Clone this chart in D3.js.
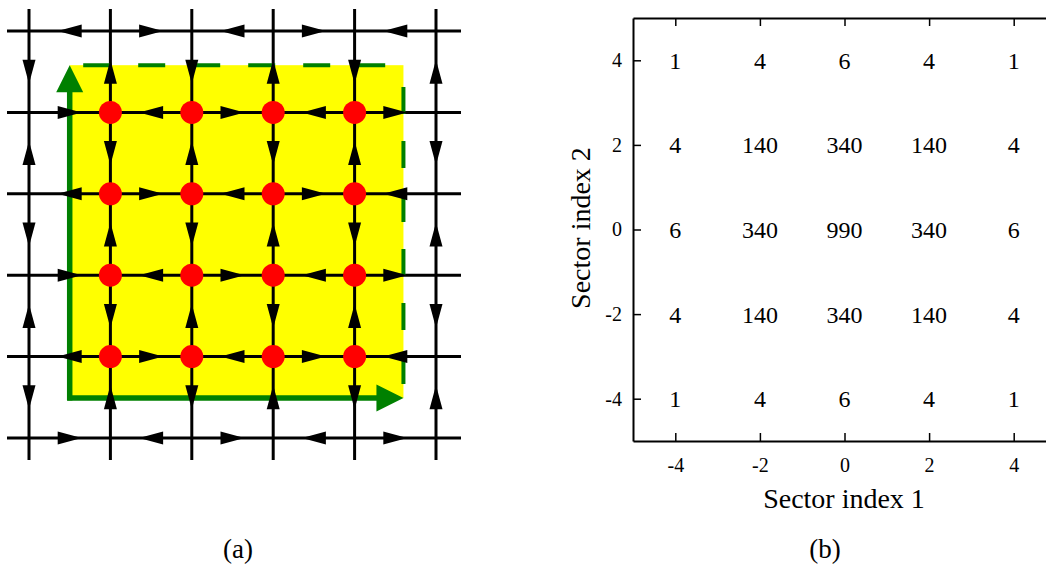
<!DOCTYPE html>
<html>
<head>
<meta charset="utf-8">
<script src="https://cdn.jsdelivr.net/npm/d3@7"></script>
<style>
  body { margin: 0; background: #fff; }
  svg text { font-family: "Liberation Serif", "Times New Roman", serif; }
</style>
</head>
<body>
<div id="chart"></div>
<script>
// ---- panel (a): lattice with flow arrows ----
var latticeIdx = [0, 1, 2, 3, 4, 5];
// arrow direction on each horizontal segment, row by row (top to bottom)
var rowArrows = [
    ['L', 'R', 'L', 'R', 'L'],
    ['R', 'L', 'R', 'L', 'R'],
    ['L', 'R', 'L', 'R', 'L'],
    ['R', 'L', 'R', 'L', 'R'],
    ['L', 'R', 'L', 'R', 'L'],
    ['R', 'L', 'R', 'L', 'R']
];
// arrow direction on each vertical segment, column by column (top to bottom)
var colArrows = [
    ['D', 'U', 'D', 'U', 'D'],
    ['U', 'D', 'U', 'D', 'U'],
    ['D', 'U', 'D', 'U', 'D'],
    ['U', 'D', 'U', 'D', 'U'],
    ['D', 'U', 'D', 'U', 'D'],
    ['U', 'D', 'U', 'D', 'U']
];
var siteCols = [1, 2, 3, 4];
var siteRows = [1, 2, 3, 4];
var regionBox = [0.5, 0.42, 4.6, 4.51];   // x0, y0, x1, y1 in lattice units

// ---- panel (b): counts per sector ----
var sectorX = [-4, -2, 0, 2, 4];
var sectorY = [4, 2, 0, -2, -4];
var counts = [
    [1, 4, 6, 4, 1],
    [4, 140, 340, 140, 4],
    [6, 340, 990, 340, 6],
    [4, 140, 340, 140, 4],
    [1, 4, 6, 4, 1]
];
var tickVals = [-4, -2, 0, 2, 4];

var svg = d3.select('#chart').append('svg')
    .attr('width', 1046)
    .attr('height', 567);

var green = '#008000';

// --- panel (a) ---
var gx = d3.scaleLinear().domain([0, 5]).range([29, 436]),
    gy = d3.scaleLinear().domain([0, 5]).range([31, 438]);

var a = svg.append('g');

a.append('rect')
    .attr('x', gx(regionBox[0]))
    .attr('y', gy(regionBox[1]))
    .attr('width', gx(regionBox[2]) - gx(regionBox[0]))
    .attr('height', gy(regionBox[3]) - gy(regionBox[1]))
    .attr('fill', '#ffff00');

// lattice lines
a.selectAll('.hline').data(latticeIdx).enter().append('line')
    .attr('x1', gx(0) - 22).attr('x2', gx(5) + 25)
    .attr('y1', function(d) { return gy(d); })
    .attr('y2', function(d) { return gy(d); })
    .attr('stroke', '#000').attr('stroke-width', 3);

a.selectAll('.vline').data(latticeIdx).enter().append('line')
    .attr('y1', gy(0) - 22).attr('y2', gy(5) + 22)
    .attr('x1', function(d) { return gx(d); })
    .attr('x2', function(d) { return gx(d); })
    .attr('stroke', '#000').attr('stroke-width', 3);

// green dashed edges of the region
var bx0 = gx(regionBox[0]), by0 = gy(regionBox[1]),
    bx1 = gx(regionBox[2]), by1 = gy(regionBox[3]);

a.append('line')
    .attr('x1', bx0 + 13.5).attr('x2', bx1)
    .attr('y1', by0).attr('y2', by0)
    .attr('stroke', green).attr('stroke-width', 4)
    .attr('stroke-dasharray', '27 28');

a.append('line')
    .attr('x1', bx1).attr('x2', bx1)
    .attr('y1', by1 - 14).attr('y2', by0)
    .attr('stroke', green).attr('stroke-width', 4)
    .attr('stroke-dasharray', '27 27');

// green axes arrows
a.append('line')
    .attr('x1', bx0).attr('x2', bx0)
    .attr('y1', by1 + 2.5).attr('y2', by0 + 20)
    .attr('stroke', green).attr('stroke-width', 5.5);
a.append('path')
    .attr('d', 'M' + bx0 + ',' + by0 + 'L' + (bx0 - 13.5) + ',' + (by0 + 27) + 'L' + (bx0 + 13.5) + ',' + (by0 + 27) + 'Z')
    .attr('fill', green);

a.append('line')
    .attr('x1', bx0 - 2.5).attr('x2', bx1 - 20)
    .attr('y1', by1).attr('y2', by1)
    .attr('stroke', green).attr('stroke-width', 5.5);
a.append('path')
    .attr('d', 'M' + bx1 + ',' + by1 + 'L' + (bx1 - 27) + ',' + (by1 - 13.5) + 'L' + (bx1 - 27) + ',' + (by1 + 13.5) + 'Z')
    .attr('fill', green);

// black flow arrows
function arrowPath(cx, cy, dir) {
    var h = 12, w = 6.5;
    if (dir === 'R') return 'M' + (cx + h) + ',' + cy + 'L' + (cx - h) + ',' + (cy - w) + 'L' + (cx - h) + ',' + (cy + w) + 'Z';
    if (dir === 'L') return 'M' + (cx - h) + ',' + cy + 'L' + (cx + h) + ',' + (cy - w) + 'L' + (cx + h) + ',' + (cy + w) + 'Z';
    if (dir === 'D') return 'M' + cx + ',' + (cy + h) + 'L' + (cx - w) + ',' + (cy - h) + 'L' + (cx + w) + ',' + (cy - h) + 'Z';
    return 'M' + cx + ',' + (cy - h) + 'L' + (cx - w) + ',' + (cy + h) + 'L' + (cx + w) + ',' + (cy + h) + 'Z';
}

var arrows = [];
rowArrows.forEach(function(row, i) {
    row.forEach(function(dir, j) {
        arrows.push({ cx: (gx(j) + gx(j + 1)) / 2, cy: gy(i), dir: dir });
    });
});
colArrows.forEach(function(col, k) {
    col.forEach(function(dir, s) {
        arrows.push({ cx: gx(k), cy: (gy(s) + gy(s + 1)) / 2, dir: dir });
    });
});

a.selectAll('.arrow').data(arrows).enter().append('path')
    .attr('class', 'arrow')
    .attr('d', function(d) { return arrowPath(d.cx, d.cy, d.dir); })
    .attr('fill', '#000');

// red sites
var sites = [];
siteRows.forEach(function(r) {
    siteCols.forEach(function(c) { sites.push({ c: c, r: r }); });
});
a.selectAll('.site').data(sites).enter().append('circle')
    .attr('cx', function(d) { return gx(d.c); })
    .attr('cy', function(d) { return gy(d.r); })
    .attr('r', 11.5)
    .attr('fill', '#ff0000');

a.append('text')
    .attr('x', 238).attr('y', 558)
    .attr('text-anchor', 'middle')
    .attr('font-size', 27)
    .text('(a)');

// --- panel (b) ---
var x = d3.scaleLinear().domain([-5, 5]).range([633, 1056]),
    y = d3.scaleLinear().domain([-5, 5]).range([441, 18]);

var b = svg.append('g');

function styleAxis(g) {
    g.attr('font-family', '"Liberation Serif", serif').attr('font-size', 20);
    g.select('.domain').attr('stroke-width', 2);
    g.selectAll('.tick line').attr('stroke-width', 1.5);
    g.selectAll('.tick text').attr('fill', '#000');
}

b.append('g')
    .attr('transform', 'translate(0,441)')
    .call(d3.axisBottom(x).tickValues(tickVals).tickSize(-8).tickSizeOuter(0)
        .tickPadding(17).tickFormat(function(d) { return String(d); }))
    .call(styleAxis);

b.append('g')
    .attr('transform', 'translate(0,18)')
    .call(d3.axisTop(x).tickValues(tickVals).tickSize(-8).tickSizeOuter(0).tickFormat(''))
    .call(styleAxis);

b.append('g')
    .attr('transform', 'translate(633,0)')
    .call(d3.axisLeft(y).tickValues(tickVals).tickSize(-8).tickSizeOuter(0)
        .tickPadding(11).tickFormat(function(d) { return String(d); }))
    .call(styleAxis);

var cells = [];
sectorY.forEach(function(sy, i) {
    sectorX.forEach(function(sx, j) {
        cells.push({ sx: sx, sy: sy, v: counts[i][j] });
    });
});

b.selectAll('.cell').data(cells).enter().append('text')
    .attr('class', 'cell')
    .attr('x', function(d) { return x(d.sx); })
    .attr('y', function(d) { return y(d.sy); })
    .attr('dy', '0.35em')
    .attr('text-anchor', 'middle')
    .attr('font-size', 24)
    .text(function(d) { return d.v; });

b.append('text')
    .attr('x', 844).attr('y', 508)
    .attr('text-anchor', 'middle')
    .attr('font-size', 28)
    .text('Sector index 1');

b.append('text')
    .attr('transform', 'translate(590,228) rotate(-90)')
    .attr('text-anchor', 'middle')
    .attr('font-size', 28)
    .text('Sector index 2');

b.append('text')
    .attr('x', 825).attr('y', 558)
    .attr('text-anchor', 'middle')
    .attr('font-size', 27)
    .text('(b)');
</script>
</body>
</html>
